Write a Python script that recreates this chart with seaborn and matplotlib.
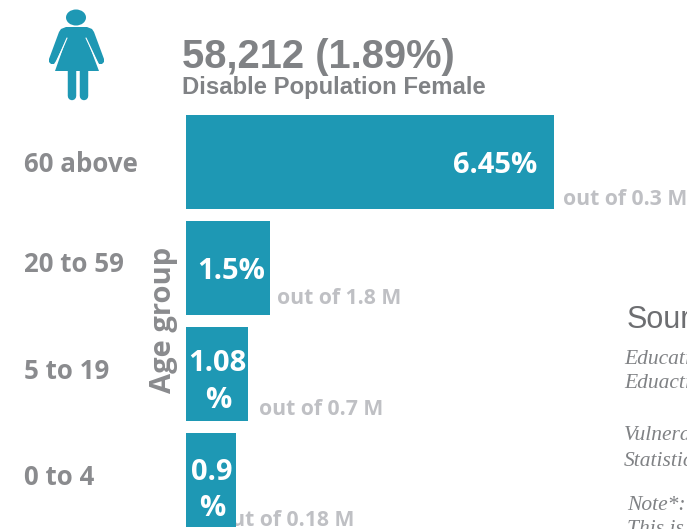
import matplotlib
matplotlib.use('Agg')
import matplotlib.pyplot as plt
from matplotlib.patches import Ellipse, Polygon
from matplotlib.transforms import ScaledTranslation
import pandas as pd
import seaborn as sns

# values (bar lengths, the labels are rounded)
age_groups = ['60 above', '20 to 59', '5 to 19', '0 to 4']
disabled_pct = [6.45, 1.47, 1.08, 0.88]
pct_labels = ['6.45%', '1.5%', '1.08\n%', '0.9\n%']
out_of_labels = ['out of 0.3 M', 'out of 1.8 M', 'out of 0.7 M', 'out of 0.18 M']

TEAL = '#1e98b4'
GREY = '#808285'
TICK_GREY = '#8a8b8e'
LIGHT_GREY = '#bfc0c4'

W, H = 687, 529

sns.set_theme(style='white')
plt.rcParams['font.family'] = ['Open Sans', 'DejaVu Sans']

df = pd.DataFrame({'age': age_groups, 'pct': disabled_pct})

fig = plt.figure(figsize=(W / 100, H / 100), dpi=100)

# chart axes, placed in pixels: x from 186, y from 109 to the bottom edge
ax = fig.add_axes([186 / W, 0, (W - 186) / W, (H - 109) / H])
ax.patch.set_alpha(0)
sns.barplot(data=df, x='pct', y='age', orient='h', color=TEAL, saturation=1,
            width=94 / 106, linewidth=0, ax=ax, zorder=3)
ax.set_xlim(0, (W - 186) / 57.05)
ax.set_ylim(3.462, -0.5)
sns.despine(ax=ax, left=True, bottom=True)
ax.set_xticks([])
ax.set_xlabel('')

ax.set_ylabel('Age group', fontsize=21, fontweight='bold', color=TICK_GREY)
ax.yaxis.set_label_coords(-8 / (W - 186), 0.4976)
ax.tick_params(axis='y', length=0, pad=162 * 0.72)
# the lower three row labels sit a little above their bar centres
tick_shifts = [1, 7, 6, 6]
for lab, dy in zip(ax.get_yticklabels(), tick_shifts):
    lab.set_ha('left')
    lab.set_fontsize(18.6)
    lab.set_fontweight('bold')
    lab.set_color(TICK_GREY)
    lab.set_transform(lab.get_transform() + ScaledTranslation(0, dy / 100, fig.dpi_scale_trans))

# all offsets below are in pixels, (x from anchor, y from bar centre)
pct_offsets = [(-17, -3), (3.5, -3), (1, -8), (1, -10)]
out_of_offsets = [(9, -37), (7, -30), (11, -35), (-18, -40)]
for i, val in enumerate(disabled_pct):
    dx, dy = pct_offsets[i]
    anchor = val if i == 0 else val / 2
    ax.annotate(pct_labels[i], (anchor, i), xytext=(dx * 0.72, dy * 0.72), textcoords='offset points',
                ha='right' if i == 0 else 'center', va='center', color='white',
                fontsize=21, fontweight='bold', linespacing=1.32, zorder=4)
    dx, dy = out_of_offsets[i]
    ax.annotate(out_of_labels[i], (val, i), xytext=(dx * 0.72, dy * 0.72),
                textcoords='offset points', ha='left', va='center', color=LIGHT_GREY,
                fontsize=15.2, fontweight='bold', zorder=1, annotation_clip=False)

# overlay in pixel coordinates for the header, icon and cut off source text
top = fig.add_axes([0, 0, 1, 1], zorder=-1)
top.set_xlim(0, W)
top.set_ylim(H, 0)
top.axis('off')

top.text(182, 57, '58,212 (1.89%)', family='Liberation Sans', fontweight='bold',
         fontsize=28.7, color=GREY, va='center', ha='left')
top.text(182, 87.5, 'Disable Population Female', family='Liberation Sans', fontweight='bold',
         fontsize=17.2, color=GREY, va='center', ha='left')

# woman icon
top.add_patch(Ellipse((76, 17.5), 20, 16, color=TEAL, lw=0))
top.add_patch(Polygon([(66, 27), (87, 27), (92, 29), (94, 32), (104, 59), (104, 62), (102, 64), (99, 64),
                       (97, 61), (86, 38), (67, 38), (56, 61), (54, 64), (51, 64), (49, 62), (49, 59),
                       (59, 32), (61, 29)], closed=True, color=TEAL, lw=0))
top.add_patch(Polygon([(67, 37), (86, 37), (99, 71), (55, 71)], closed=True, color=TEAL, lw=0))
top.plot([67, 56], [38, 63.5], color='white', lw=0.8)
top.plot([86, 98], [38, 63.5], color='white', lw=0.8)
top.plot([72.2, 72.2], [70, 96], color=TEAL, lw=6.1, solid_capstyle='round')
top.plot([83.5, 83.5], [70, 96], color=TEAL, lw=6.1, solid_capstyle='round')

top.text(627, 320, 'Sources', family='Liberation Sans', fontsize=22, color='#6d6e71', va='center')
source_lines = [('Education', 624, 359), ('Eduaction', 624, 384), ('Vulnerable', 624, 435),
                ('Statistics', 624, 461), ('Note*:', 627, 505), ('This is', 627, 529)]
for txt, x, y in source_lines:
    top.text(x, y, txt, family='Liberation Serif', style='italic', fontsize=15.5, color='#808285', va='center')

fig.savefig('out.png', dpi=100)
